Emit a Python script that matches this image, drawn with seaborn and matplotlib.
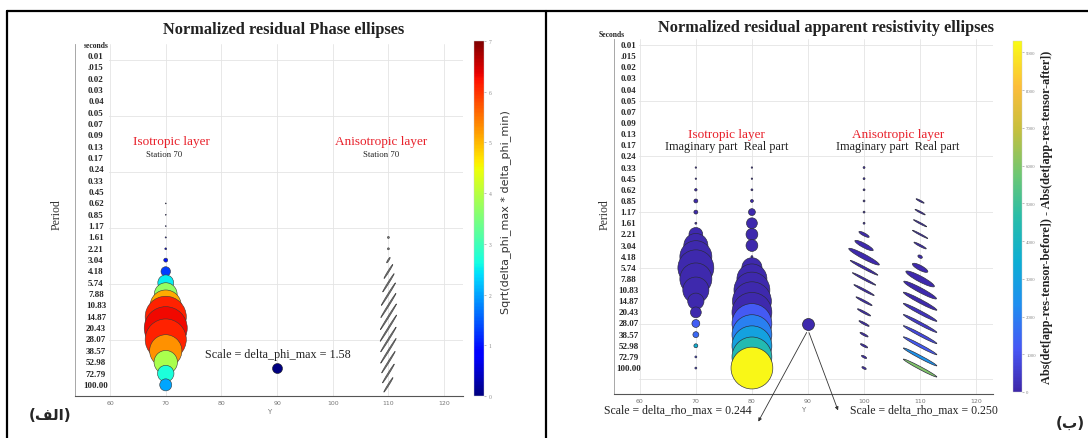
import numpy as np
import matplotlib
matplotlib.use("Agg")
import matplotlib.pyplot as plt
from matplotlib.collections import EllipseCollection
from matplotlib.colors import LinearSegmentedColormap, Normalize
from matplotlib.patches import Rectangle, FancyArrowPatch
from matplotlib.lines import Line2D
import matplotlib.cm as cm
import seaborn as sns

# ---------------------------------------------------------------- data
periods = ["0.01", ".015", "0.02", "0.03", "0.04", "0.05", "0.07", "0.09", "0.13", "0.17",
           "0.24", "0.33", "0.45", "0.62", "0.85", "1.17", "1.61", "2.21", "3.04", "4.18",
           "5.74", "7.88", "10.83", "14.87", "20.43", "28.07", "38.57", "52.98", "72.79", "100.00"]
x_ticks = [60, 70, 80, 90, 100, 110, 120]

# Panel (a): phase ellipses
phase_scale = 1.58
phase_iso_idx = list(range(13, 30))
phase_iso_size = [0.15, 0.15, 0.15, 0.2, 0.3, 0.63, 1.5, 2.5, 3.6, 4.9, 6.5, 6.8, 6.5, 5.1, 3.7, 2.6, 1.9]
phase_iso_color = [0.3, 0.3, 0.3, 0.3, 0.5, 1.0, 1.3, 2.5, 3.7, 5.1, 6.1, 6.3, 6.1, 5.3, 3.9, 2.7, 2.0]
phase_aniso_idx = list(range(16, 30))
phase_aniso_max = [0.3, 0.3, 1.0, 2.6, 3.4, 4.2, 4.5, 4.8, 4.9, 4.6, 4.6, 4.0, 3.5, 2.7]
phase_aniso_min = [0.3, 0.3, 0.2, 0.2, 0.2, 0.2, 0.2, 0.2, 0.2, 0.2, 0.2, 0.2, 0.2, 0.2]
phase_aniso_angle = 58

# Panel (b): apparent resistivity ellipses
rho_scale_iso = 0.244
rho_scale_aniso = 0.250
rho_iso_idx = list(range(11, 30))
rho_iso_imag = [0.03, 0.03, 0.05, 0.08, 0.08, 0.04, 0.28, 0.49, 0.65, 0.73, 0.65, 0.53, 0.33, 0.22,
                0.16, 0.12, 0.08, 0.04, 0.04]
rho_iso_imag_color = [100] * 14 + [1300, 1500, 3600, 800, 600]
rho_iso_real = [0.03, 0.03, 0.04, 0.06, 0.14, 0.22, 0.24, 0.24, 0.04, 0.41, 0.61, 0.73, 0.79, 0.81,
                0.81, 0.81, 0.81, 0.81, 0.85]
rho_iso_real_color = [100] * 14 + [1200, 2000, 3000, 4400, 9200]

rho_an_imag_idx = list(range(11, 30))
rho_an_imag_max = [0.04, 0.04, 0.04, 0.04, 0.04, 0.04, 0.24, 0.43, 0.72, 0.65, 0.55, 0.48, 0.38, 0.31,
                   0.24, 0.19, 0.17, 0.12, 0.10]
rho_an_imag_min = [0.04, 0.04, 0.04, 0.04, 0.04, 0.04, 0.06, 0.09, 0.10, 0.05, 0.04, 0.04, 0.04, 0.04,
                   0.04, 0.04, 0.04, 0.04, 0.04]
rho_an_imag_color = [100] * 19
rho_an_real_idx = list(range(14, 30))
rho_an_real_max = [0.19, 0.24, 0.31, 0.36, 0.29, 0.10, 0.36, 0.67, 0.77, 0.79, 0.79, 0.79, 0.79, 0.79,
                   0.79, 0.79]
rho_an_real_min = [0.03, 0.03, 0.03, 0.03, 0.04, 0.06, 0.10, 0.12, 0.10, 0.08, 0.07, 0.06, 0.06, 0.06,
                   0.06, 0.06]
rho_an_real_color = [100] * 10 + [300, 500, 800, 1200, 2500, 6000]
rho_an_angle = -28

# ---------------------------------------------------------------- style
sns.set_theme(style="whitegrid")
plt.rcParams['font.family'] = ['Liberation Serif', 'DejaVu Serif']
plt.rcParams['grid.color'] = '#e4e4e4'
plt.rcParams['grid.linewidth'] = 0.6

W, H = 1088, 439
fig = plt.figure(figsize=(W / 100, H / 100), dpi=100)


def axes_px(l, t, r, b):
    return fig.add_axes([l / W, 1 - b / H, (r - l) / W, (b - t) / H])


parula = LinearSegmentedColormap.from_list("parula", [
    (0.00, (0.2422, 0.1504, 0.6603)),
    (0.12, (0.2780, 0.3360, 0.9600)),
    (0.25, (0.1200, 0.5600, 0.9400)),
    (0.37, (0.0500, 0.6800, 0.8300)),
    (0.50, (0.1600, 0.7400, 0.6600)),
    (0.62, (0.4300, 0.7800, 0.4500)),
    (0.75, (0.7800, 0.7500, 0.2400)),
    (0.87, (0.9900, 0.7400, 0.2300)),
    (1.00, (0.9769, 0.9839, 0.0805)),
])


def setup_axes(ax, xlim, ylim, grid_y):
    ax.set_xlim(*xlim)
    ax.set_ylim(*ylim)
    ax.set_axisbelow(True)
    ax.set_xticks(x_ticks)
    ax.set_xticklabels([str(v) for v in x_ticks], fontsize=4.5, color='#777777', family='DejaVu Sans')
    ax.set_yticks(grid_y)
    ax.set_yticklabels([])
    ax.grid(True)
    ax.tick_params(axis='both', length=2, width=0.5, direction='in', color='#666666', pad=3)
    ax.tick_params(axis='y', direction='out', length=2)
    for s in ['top', 'right']:
        ax.spines[s].set_visible(False)
    ax.spines['left'].set_color('#999999')
    ax.spines['bottom'].set_color('#555555')
    ax.spines['left'].set_linewidth(0.6)
    ax.spines['bottom'].set_linewidth(0.8)
    ax.set_xlabel("Y", fontsize=5, color='#777777', family='DejaVu Sans', labelpad=2)
    ax.set_facecolor('white')
    # white column behind the period labels
    ax.add_patch(Rectangle((xlim[0], ylim[1]), 59.8 - xlim[0], ylim[0] - ylim[1],
                           facecolor='white', edgecolor='none', zorder=0.8))


def draw_ellipses(ax, x, idx, semi_major, semi_minor, angle, px_per_unit, colors, ec, lw):
    ppx = ax.bbox.width / (ax.get_xlim()[1] - ax.get_xlim()[0])
    a = np.asarray(semi_major, float) * px_per_unit
    b = np.asarray(semi_minor, float) * px_per_unit
    n = len(a)
    coll = EllipseCollection(2 * a / ppx, 2 * b / ppx, np.full(n, angle), units='x',
                             offsets=np.column_stack([np.full(n, x), idx]),
                             offset_transform=ax.transData,
                             facecolors=colors, edgecolors=ec, linewidths=lw, zorder=3)
    ax.add_collection(coll)


# ================================================================ panel (a)
axL = axes_px(75, 45, 463, 397)
L_top, L_sp = 57.0, 11.34
ylimL = ((397 - L_top) / L_sp, (45 - L_top) / L_sp)
setup_axes(axL, (53.7, 123.4), ylimL, [0.35 + 4.94 * k for k in range(6)])
fig.canvas.draw()

jet = plt.get_cmap('jet')
normL = Normalize(0, 7)
PHI_PX = 5.0 / phase_scale

draw_ellipses(axL, 70, phase_iso_idx, phase_iso_size, phase_iso_size, 0, PHI_PX,
              jet(normL(phase_iso_color)), '#3a3a3a', 0.4)
draw_ellipses(axL, 110, phase_aniso_idx, phase_aniso_max, phase_aniso_min, phase_aniso_angle, PHI_PX,
              '#7a7a7a', '#4a4a4a', 0.5)
draw_ellipses(axL, 90, [27.5], [phase_scale], [phase_scale], 0, PHI_PX,
              jet(normL([0.0])), '#222222', 0.4)

tx = axL.get_yaxis_transform()
axL.text(0.054, -1.0, "seconds", transform=tx, ha='center', va='center', fontsize=5.5,
         fontweight='bold', zorder=4)
for i, p in enumerate(periods):
    axL.text(0.054, i, p, transform=tx, ha='center', va='center', fontsize=6.5,
             fontweight='bold', zorder=4)

axL.text(71.0, 7.5, "Isotropic layer", color='#e8202a', fontsize=9.5, ha='center', va='center')
axL.text(69.8, 8.6, "Station 70", color='#222222', fontsize=6.3, ha='center', va='center')
axL.text(108.7, 7.5, "Anisotropic layer", color='#e8202a', fontsize=9.5, ha='center', va='center')
axL.text(108.7, 8.6, "Station 70", color='#222222', fontsize=6.3, ha='center', va='center')
axL.text(90.2, 26.3, "Scale = delta_phi_max = %.2f" % phase_scale, fontsize=8.7, ha='center',
         va='center', color='#222222', zorder=4)

fig.text(284 / W, 1 - 30 / H, "Normalized residual Phase ellipses", fontsize=11.8,
         fontweight='bold', ha='center', va='center', color='#222222')
fig.text(57 / W, 1 - 215 / H, "Period", rotation=90, fontsize=8.5, ha='center', va='center',
         color='#333333')

caxL = axes_px(474, 42, 484, 397)
cbL = fig.colorbar(cm.ScalarMappable(norm=normL, cmap=jet), cax=caxL, ticks=range(0, 8))
cbL.outline.set_linewidth(0.3)
caxL.tick_params(labelsize=4, colors='#888888', length=1.5, width=0.4, pad=2)
caxL.text(3.2, 0.52, "Sqrt(delta_phi_max * delta_phi_min)", transform=caxL.transAxes,
          rotation=90, ha='center', va='center', fontsize=8, color='#333333', family='DejaVu Sans')

# ================================================================ panel (b)
axR = axes_px(614, 40, 993, 395)
R_top, R_sp = 46.0, 11.14
ylimR = ((395 - R_top) / R_sp, (40 - R_top) / R_sp)
setup_axes(axR, (55.4, 123.0), ylimR, [5 * k for k in range(7)])
fig.canvas.draw()

normR = Normalize(0, 9300)
RHO_PX_ISO = 6.0 / rho_scale_iso
RHO_PX_AN = 6.0 / rho_scale_aniso

draw_ellipses(axR, 70, rho_iso_idx, rho_iso_imag, rho_iso_imag, 0, RHO_PX_ISO,
              parula(normR(rho_iso_imag_color)), '#2a2a3a', 0.45)
draw_ellipses(axR, 80, rho_iso_idx, rho_iso_real, rho_iso_real, 0, RHO_PX_ISO,
              parula(normR(rho_iso_real_color)), '#2a2a3a', 0.45)
draw_ellipses(axR, 100, rho_an_imag_idx, rho_an_imag_max, rho_an_imag_min, rho_an_angle, RHO_PX_AN,
              parula(normR(rho_an_imag_color)), '#303040', 0.5)
draw_ellipses(axR, 110, rho_an_real_idx, rho_an_real_max, rho_an_real_min, rho_an_angle, RHO_PX_AN,
              parula(normR(rho_an_real_color)), '#303040', 0.5)
draw_ellipses(axR, 90, [25.0], [rho_scale_iso], [rho_scale_iso], 0, RHO_PX_ISO,
              parula(normR([100])), '#222222', 0.45)

txr = axR.get_yaxis_transform()
axR.text(-0.005, -1.0, "Seconds", transform=txr, ha='center', va='center', fontsize=5.5,
         fontweight='bold', zorder=4)
for i, p in enumerate(periods):
    axR.text(0.038, i, p, transform=txr, ha='center', va='center', fontsize=6.5,
             fontweight='bold', zorder=4)

axR.text(75.5, 8.0, "Isotropic layer", color='#e8202a', fontsize=9.5, ha='center', va='center')
axR.text(75.5, 9.1, "Imaginary part  Real part", color='#222222', fontsize=8.8, ha='center', va='center')
axR.text(106.0, 8.0, "Anisotropic layer", color='#e8202a', fontsize=9.5, ha='center', va='center')
axR.text(106.0, 9.1, "Imaginary part  Real part", color='#222222', fontsize=8.8, ha='center', va='center')

fig.text(678 / W, 1 - 410 / H, "Scale = delta_rho_max = %.3f" % rho_scale_iso, fontsize=8.5,
         ha='center', va='center', color='#222222')
fig.text(924 / W, 1 - 410 / H, "Scale = delta_rho_max = %.3f" % rho_scale_aniso, fontsize=8.5,
         ha='center', va='center', color='#222222')
for tip in [(757, 425), (839, 414)]:
    fig.add_artist(FancyArrowPatch(
        (808 / W, 1 - 331 / H), (tip[0] / W, 1 - tip[1] / H), transform=fig.transFigure,
        arrowstyle='-|>', mutation_scale=5, linewidth=0.6, color='#333333'))

fig.text(826 / W, 1 - 28 / H, "Normalized residual apparent resistivity ellipses", fontsize=11.8,
         fontweight='bold', ha='center', va='center', color='#222222')
fig.text(605 / W, 1 - 215 / H, "Period", rotation=90, fontsize=8.5, ha='center', va='center',
         color='#333333')

caxR = axes_px(1013, 42, 1022, 393)
cbR = fig.colorbar(cm.ScalarMappable(norm=normR, cmap=parula), cax=caxR,
                   ticks=range(0, 9001, 1000))
cbR.outline.set_linewidth(0.3)
caxR.tick_params(labelsize=3.5, colors='#888888', length=1.5, width=0.4, pad=1.5)
caxR.text(3.8, 0.5, "Abs(det[app-res-tensor-before]) - Abs(det[app-res-tensor-after])",
          transform=caxR.transAxes, rotation=90, ha='center', va='center', fontsize=8.8,
          fontweight='bold', color='#222222')

# ---------------------------------------------------------------- frames & panel tags
for (x0, y0, x1, y1) in [(7, 12, 1088, 12), (7, 12, 7, 439), (546, 12, 546, 439)]:
    fig.add_artist(Line2D([x0 / W, x1 / W], [1 - y0 / H, 1 - y1 / H], color='black', lw=1.6,
                          transform=fig.transFigure))

fig.text(50 / W, 1 - 416 / H, "(\uFED2\uFEDF\uFE8D)", fontsize=11, fontweight='bold',
         ha='center', va='center', family='DejaVu Sans')
fig.text(1070 / W, 1 - 423 / H, "(\uFE8F)", fontsize=11, fontweight='bold',
         ha='center', va='center', family='DejaVu Sans')

fig.savefig("out.png", dpi=100)
